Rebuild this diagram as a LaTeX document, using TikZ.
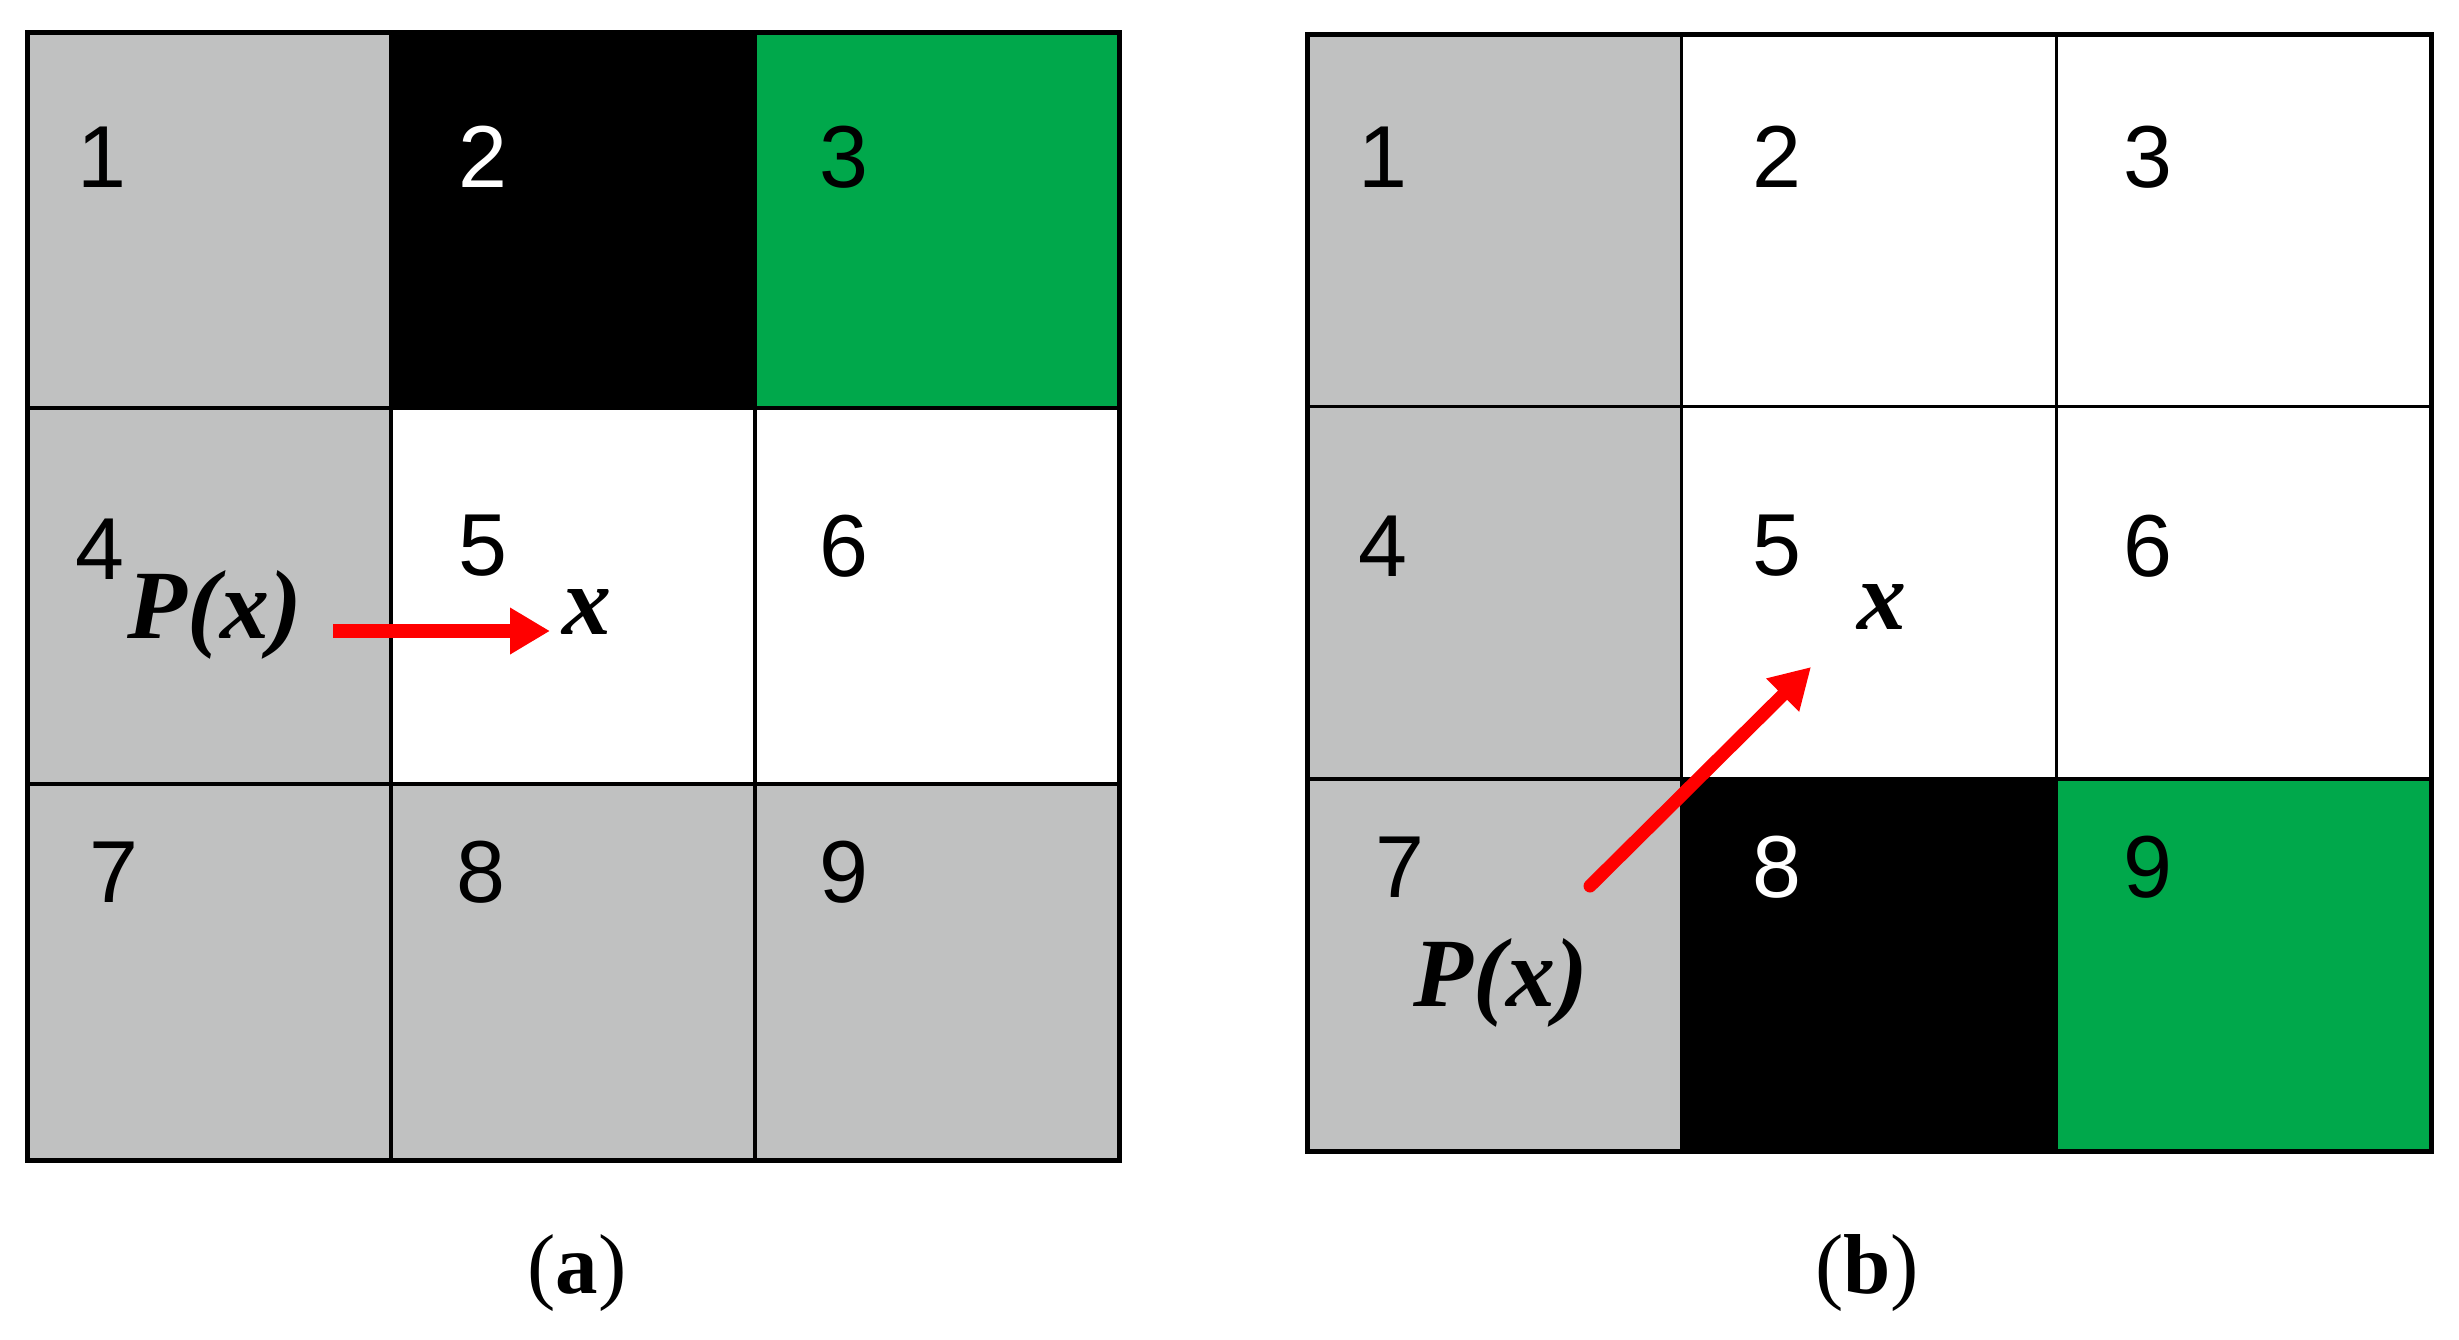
\documentclass[tikz,border=0pt]{standalone}
\usepackage{fontspec}
\setmainfont{Liberation Serif}
\newfontfamily\digitfont{Liberation Sans}
\usetikzlibrary{arrows.meta}
\definecolor{cgray}{RGB}{192,193,193}
\definecolor{cgreen}{RGB}{0,168,75}
\begin{document}
\begin{tikzpicture}[x=1pt,y=-1pt,
  cellA/.style={draw=black, line width=3.5pt, minimum width=364pt, minimum height=376pt, inner sep=0pt, outer sep=0pt, anchor=north west},
  cellB/.style={draw=black, line width=3.5pt, minimum width=374.7pt, minimum height=372.5pt, inner sep=0pt, outer sep=0pt, anchor=north west},
  num/.style={font=\digitfont\fontsize{88}{100}\selectfont, inner sep=0pt},
  var/.style={font=\fontsize{98}{110}\selectfont\bfseries\itshape, inner sep=0pt},
  captext/.style={font=\fontsize{85}{95}\selectfont, inner sep=0pt},
  redarrow/.style={draw=red, line width=14pt, -{Triangle[length=40pt,width=44pt]}}]
\useasboundingbox (0,0) rectangle (2459,1339);
\fill[white] (0,0) rectangle (2459,1339);
% ---- grid (a)
\node[cellA, fill=cgray]  (a11) at (27,32) {};
\node[cellA, fill=black]  (a12) at (391,32) {};
\node[cellA, fill=cgreen] (a13) at (755,32) {};
\node[cellA, fill=cgray]  (a21) at (27,408) {};
\node[cellA, fill=white]  (a22) at (391,408) {};
\node[cellA, fill=white]  (a23) at (755,408) {};
\node[cellA, fill=cgray]  (a31) at (27,784) {};
\node[cellA, fill=cgray]  (a32) at (391,784) {};
\node[cellA, fill=cgray]  (a33) at (755,784) {};
\draw[line width=5pt] (a11.north west) rectangle (a33.south east);
% ---- grid (b)
\node[cellB, fill=cgray]  (b11) at (1307,34) {};
\node[cellB, fill=white]  (b12) at (1681.7,34) {};
\node[cellB, fill=white]  (b13) at (2056.4,34) {};
\node[cellB, fill=cgray]  (b21) at (1307,406.5) {};
\node[cellB, fill=white]  (b22) at (1681.7,406.5) {};
\node[cellB, fill=white]  (b23) at (2056.4,406.5) {};
\node[cellB, fill=cgray]  (b31) at (1307,779) {};
\node[cellB, fill=black]  (b32) at (1681.7,779) {};
\node[cellB, fill=cgreen] (b33) at (2056.4,779) {};
\draw[line width=5pt] (b11.north west) rectangle (b33.south east);
% ---- numbers (a)
\node[num] (na1) at (102,157) {1};
\node[num, text=white] (na2) at (483,157) {2};
\node[num] (na3) at (844,157) {3};
\node[num] (na4) at (100,549) {4};
\node[num] (na5) at (483,546) {5};
\node[num] (na6) at (844,546) {6};
\node[num] (na7) at (114,872) {7};
\node[num] (na8) at (481,872) {8};
\node[num] (na9) at (844,872) {9};
% ---- numbers (b)
\node[num] (nb1) at (1383,157) {1};
\node[num] (nb2) at (1777,157) {2};
\node[num] (nb3) at (2148,157) {3};
\node[num] (nb4) at (1383,546) {4};
\node[num] (nb5) at (1777,546) {5};
\node[num] (nb6) at (2148,546) {6};
\node[num] (nb7) at (1400,867) {7};
\node[num, text=white] (nb8) at (1777,867) {8};
\node[num] (nb9) at (2148,867) {9};
% ---- labels (a)
\node[var] (pa) at (215,615) {P(x)};
\node[var] (xa) at (587,612) {x};
\coordinate (sa) at (333,631);
\coordinate (ea) at (550,631);
\draw[redarrow] (sa) -- (ea);
% ---- labels (b)
\node[var] (pb) at (1501,983) {P(x)};
\node[var] (xb) at (1882,607) {x};
\coordinate (sb) at (1590,886);
\coordinate (eb) at (1811,667);
\draw[redarrow, line width=13pt, line cap=round] (sb) -- (eb);
% ---- captions
\node[captext] (capa) at (577,1273) {(\textbf{a})};
\node[captext] (capb) at (1867,1273) {(\textbf{b})};
\end{tikzpicture}
\end{document}
